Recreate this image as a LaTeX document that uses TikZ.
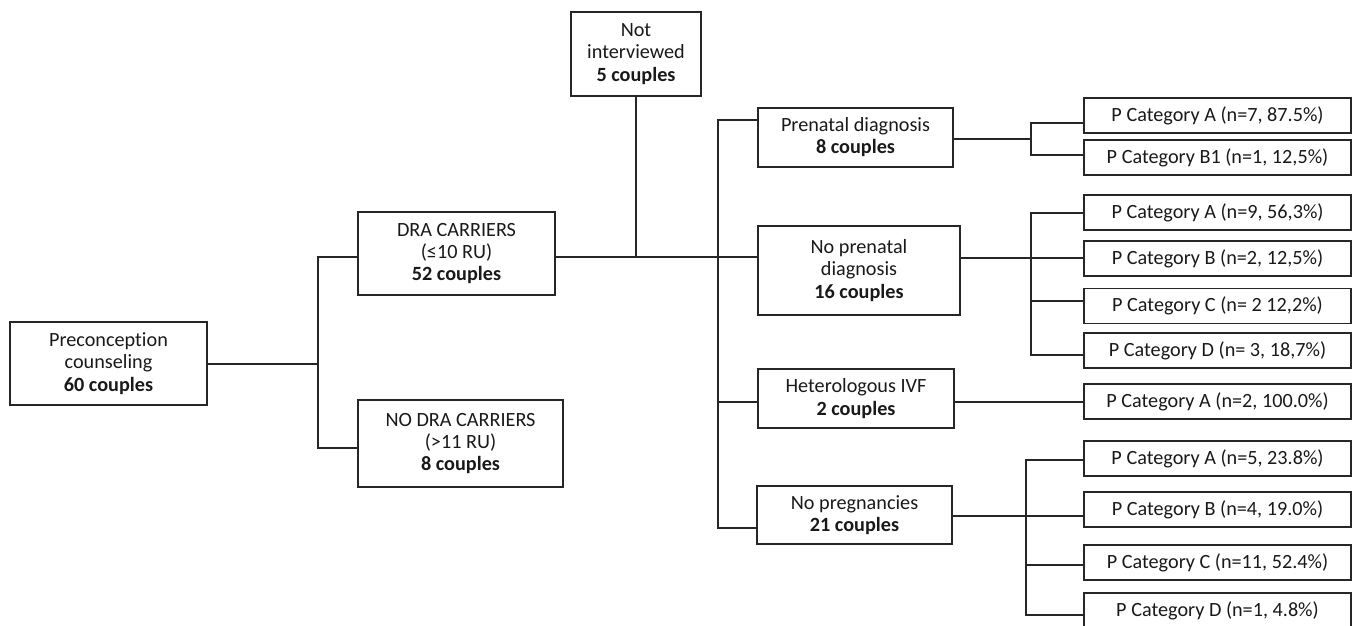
\documentclass[tikz,border=0pt]{standalone}
\usepackage{fontspec}
\setmainfont{Carlito}[Ligatures=NoCommon]
\usetikzlibrary{positioning}

\tikzset{
  box/.style={draw=black!85, line width=0.9pt, align=center, inner sep=1pt,
    font=\fontsize{11.5}{12.6}\selectfont, text=black!90},
  pbox/.style={box, minimum width=5.34cm, minimum height=0.70cm},
  link/.style={line width=1.35pt, draw=black!85},
  thinlink/.style={line width=0.8pt, draw=black!85}
}

\begin{document}
\begin{tikzpicture}[x=0.02cm, y=-0.02cm]
\useasboundingbox (0,0) rectangle (1354,625);

% first level
\node[box, minimum width=3.94cm, minimum height=1.66cm] (precon) at (108.5,363.5) {Preconception\\counseling\\\textbf{60 couples}};
\node[box, minimum width=3.94cm, minimum height=1.66cm] (dra) at (456.5,253.5) {DRA CARRIERS\\(≤10 RU)\\\textbf{52 couples}};
\node[box, minimum width=4.10cm, minimum height=1.74cm] (nodra) at (460.5,443.5) {NO DRA CARRIERS\\(>11 RU)\\\textbf{8 couples}};
\node[box, minimum width=2.60cm, minimum height=1.68cm] (notint) at (636,54) {Not\\interviewed\\\textbf{5 couples}};

% second level
\node[box, minimum width=3.90cm, minimum height=1.18cm] (prenat) at (855.5,137.5) {Prenatal diagnosis\\\textbf{8 couples}};
\node[box, minimum width=4.04cm, minimum height=1.78cm] (noprenat) at (859,270.5) {No prenatal\\diagnosis\\\textbf{16 couples}};
\node[box, minimum width=3.92cm, minimum height=1.18cm] (hetero) at (856,398.5) {Heterologous IVF\\\textbf{2 couples}};
\node[box, minimum width=3.90cm, minimum height=1.16cm] (nopreg) at (854.5,515) {No pregnancies\\\textbf{21 couples}};

% outcomes
\node[pbox] (pa1) at (1217.5,115.5) {P Category A (n=7, 87.5\%)};
\node[pbox] (pb1) at (1217.5,157.5) {P Category B1 (n=1, 12,5\%)};
\node[pbox] (pa2) at (1217.5,212.5) {P Category A (n=9, 56,3\%)};
\node[pbox] (pb2) at (1217.5,258.5) {P Category B (n=2, 12,5\%)};
\node[pbox] (pc2) at (1217.5,306) {P Category C (n= 2 12,2\%)};
\node[pbox] (pd2) at (1217.5,350.5) {P Category D (n= 3, 18,7\%)};
\node[pbox] (pa3) at (1217.5,401.5) {P Category A (n=2, 100.0\%)};
\node[pbox] (pa4) at (1217.5,458.5) {P Category A (n=5, 23.8\%)};
\node[pbox] (pb4) at (1217.5,509.5) {P Category B (n=4, 19.0\%)};
\node[pbox] (pc4) at (1217.5,562.5) {P Category C (n=11, 52.4\%)};
\node[pbox] (pd4) at (1217.5,610.5) {P Category D (n=1, 4.8\%)};

% carriers split
\coordinate (j1) at (318,364);
\draw[link] (precon.east |- j1) -- (j1);
\draw[link] (dra.west |- 0,257) -| (j1) |- (nodra.west |- 0,448);

% carriers to pregnancy groups
\draw[link] (dra.east |- 0,257) -- (noprenat.west |- 0,257);
\draw[thinlink] (notint.south) -- (notint.south |- 0,257);
\coordinate (t1) at (718,120);
\coordinate (t2) at (718,528);
\draw[link] (prenat.west |- t1) -- (t1) -- (t2) -- (nopreg.west |- t2);
\draw[link] (hetero.west |- 0,402) -- (t1 |- 0,402);

% prenatal diagnosis
\coordinate (jp) at (1031,139);
\draw[thinlink] (prenat.east |- jp) -- (jp);
\draw[link] (pa1.west |- 0,123) -| (jp) |- (pb1.west |- 0,155);

% no prenatal diagnosis
\coordinate (jn) at (1031,258);
\coordinate (jnTop) at (1031,213);
\coordinate (jnBot) at (1031,355);
\draw[link] (noprenat.east |- jn) -- (jn) -- (pb2.west |- jn);
\draw[link] (pa2.west |- jnTop) -- (jnTop) -- (jnBot) -- (pd2.west |- jnBot);
\draw[link] (pc2.west |- 0,301) -- (jn |- 0,301);

% heterologous IVF
\draw[thinlink] (hetero.east |- 0,402) -- (pa3.west |- 0,402);

% no pregnancies
\coordinate (jg) at (1026,516);
\coordinate (jgTop) at (1026,460);
\coordinate (jgBot) at (1026,615);
\draw[link] (nopreg.east |- jg) -- (jg) -- (pb4.west |- jg);
\draw[link] (pa4.west |- jgTop) -- (jgTop) -- (jgBot) -- (pd4.west |- jgBot);
\draw[link] (pc4.west |- 0,565) -- (jg |- 0,565);
\end{tikzpicture}
\end{document}
